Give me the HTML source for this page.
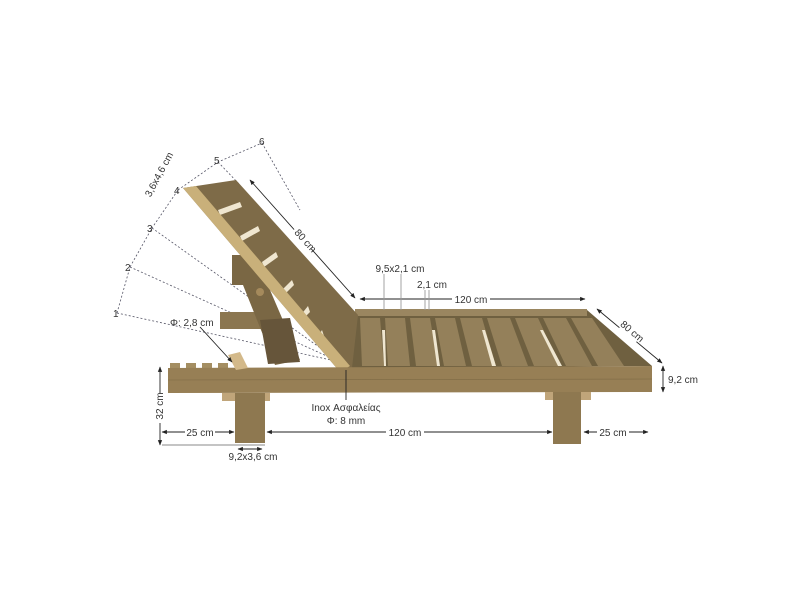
<!DOCTYPE html>
<html><head><meta charset="utf-8"><style>
html,body{margin:0;padding:0;background:#fff;}
svg{display:block;}
text{font-family:"Liberation Sans","Noto Sans CJK SC",sans-serif;font-size:10px;fill:#333;}
</style></head><body>
<svg width="800" height="600" viewBox="0 0 800 600" xmlns="http://www.w3.org/2000/svg">
<defs>
<marker id="a" viewBox="0 0 10 10" refX="9" refY="5" markerWidth="6" markerHeight="6" orient="auto-start-reverse"><path d="M0,1L10,5L0,9z" fill="#222"/></marker>
</defs>
<rect width="800" height="600" fill="#fff"/>
<g stroke="#556" stroke-width="0.8" stroke-dasharray="2,2" fill="none">
<polyline points="117,313 130,267 152,228 178,190"/>
<polyline points="178,190 218,162 262,143"/>
<line x1="117" y1="313" x2="340" y2="362"/>
<line x1="130" y1="267" x2="340" y2="362"/>
<line x1="152" y1="228" x2="340" y2="362"/>
<line x1="218" y1="162" x2="240" y2="185"/>
<line x1="262" y1="143" x2="300" y2="210"/>
</g>
<rect x="220" y="312" width="50" height="17" fill="#8b7650"/>
<polygon points="355,311 587,310 652,366 340,368" fill="#6f6040"/>
<g fill="#94805a">
<polygon points="360,318 380,318 384,366 362,366"/>
<polygon points="385,318 405,318 410,366 388,366"/>
<polygon points="410,318 430,318 438,366 416,366"/>
<polygon points="435,318 455,318 466,366 444,366"/>
<polygon points="460,318 482,318 496,366 472,366"/>
<polygon points="487,318 510,318 528,366 502,366"/>
<polygon points="515,318 538,318 560,366 534,366"/>
<polygon points="543,318 566,318 592,366 566,366"/>
<polygon points="571,318 592,318 624,366 598,366"/>
</g>
<g fill="#efe6d0">
<polygon points="382,330 385,330 386,366 384,366"/>
<polygon points="432,330 435,330 440,366 437,366"/>
<polygon points="482,330 485,330 496,366 492,366"/>
<polygon points="540,330 543,330 562,366 558,366"/>
</g>
<rect x="355" y="309" width="232" height="7" fill="#9a8660"/>
<polygon points="235,265 258,262 300,360 275,365" fill="#7a6744"/>
<polygon points="260,320 290,318 300,362 268,364" fill="#66553a"/>
<rect x="232" y="255" width="30" height="30" fill="#7a6744"/>
<polygon points="183,188 236,180 358,315 352,368 340,372" fill="#7e6b48"/>
<g fill="#efe6d0">
<polygon points="218,210 240,202 242,207 220,215"/>
<polygon points="240,236 258,226 260,231 242,241"/>
<polygon points="262,262 276,252 278,257 264,267"/>
<polygon points="282,290 292,280 294,285 284,295"/>
<polygon points="300,316 308,306 310,312 302,320"/>
<polygon points="316,340 322,330 324,336 318,344"/>
</g>
<polygon points="183,188 196,186 350,366 340,372" fill="#c9b07a"/>
<circle cx="260" cy="292" r="4" fill="#a58a5c"/>
<g fill="#a48e62">
<rect x="170" y="363" width="10" height="6"/><rect x="186" y="363" width="10" height="6"/><rect x="202" y="363" width="10" height="6"/><rect x="218" y="363" width="10" height="6"/>
</g>
<polygon points="168,368 652,366 652,392 168,393" fill="#977f55"/>
<line x1="168" y1="380" x2="652" y2="379" stroke="#7e6a45" stroke-width="0.6"/>
<polygon points="228,355 240,352 248,368 236,370" fill="#d3b98a"/>
<rect x="222" y="393" width="48" height="8" fill="#c0a57a"/>
<rect x="235" y="393" width="30" height="50" fill="#8e7850"/>
<rect x="545" y="392" width="46" height="8" fill="#c0a57a"/>
<rect x="553" y="392" width="28" height="52" fill="#8e7850"/>
<g stroke="#222" stroke-width="0.9" fill="none">
<line x1="250" y1="180" x2="355" y2="298" marker-start="url(#a)" marker-end="url(#a)"/>
<line x1="360" y1="299" x2="585" y2="299" marker-start="url(#a)" marker-end="url(#a)"/>
<line x1="597" y1="309" x2="662" y2="363" marker-start="url(#a)" marker-end="url(#a)"/>
<line x1="663" y1="366" x2="663" y2="392" marker-start="url(#a)" marker-end="url(#a)"/>
<line x1="160" y1="367" x2="160" y2="445" marker-start="url(#a)" marker-end="url(#a)"/>
<line x1="162" y1="445" x2="265" y2="445" stroke="#888"/>
<line x1="162" y1="432" x2="234" y2="432" marker-start="url(#a)" marker-end="url(#a)"/>
<line x1="267" y1="432" x2="552" y2="432" marker-start="url(#a)" marker-end="url(#a)"/>
<line x1="584" y1="432" x2="648" y2="432" marker-start="url(#a)" marker-end="url(#a)"/>
<line x1="238" y1="449" x2="262" y2="449" marker-start="url(#a)" marker-end="url(#a)"/>
<line x1="346" y1="370" x2="346" y2="400"/>
<line x1="200" y1="327" x2="232" y2="362" marker-end="url(#a)"/>
<line x1="384" y1="274" x2="384" y2="310" stroke="#999"/>
<line x1="401" y1="274" x2="401" y2="310" stroke="#999"/>
<line x1="425" y1="290" x2="425" y2="310" stroke="#999"/>
<line x1="429" y1="290" x2="429" y2="310" stroke="#999"/>
</g>
<g>
<rect x="452" y="293" width="38" height="12" fill="#fff"/>
<text x="471" y="303" text-anchor="middle">120 cm</text>
<rect x="386" y="426" width="38" height="12" fill="#fff"/>
<text x="405" y="436" text-anchor="middle">120 cm</text>
<rect x="185" y="426" width="30" height="12" fill="#fff"/>
<text x="200" y="436" text-anchor="middle">25 cm</text>
<rect x="597" y="426" width="32" height="12" fill="#fff"/>
<text x="613" y="436" text-anchor="middle">25 cm</text>
<text x="400" y="272" text-anchor="middle">9,5x2,1 cm</text>
<text x="432" y="288" text-anchor="middle">2,1 cm</text>
<text x="668" y="383">9,2 cm</text>
<text x="253" y="460" text-anchor="middle">9,2x3,6 cm</text>
<text x="346" y="411" text-anchor="middle">Inox Ασφαλείας</text>
<text x="346" y="424" text-anchor="middle">Φ: 8 mm</text>
<text x="170" y="326">Φ: 2,8 cm</text>
<rect x="152" y="393" width="14" height="30" fill="#fff"/>
<text transform="translate(163,406) rotate(-90)" text-anchor="middle">32 cm</text>
<rect x="-13" y="-6" width="26" height="10" fill="#fff" transform="translate(303,239) rotate(48)"/>
<text transform="translate(303,243) rotate(48)" text-anchor="middle">80 cm</text>
<rect x="620" y="324" width="22" height="14" fill="#fff" transform="rotate(40 631 331)"/>
<text transform="translate(630,334) rotate(40)" text-anchor="middle">80 cm</text>
<text transform="translate(162,176) rotate(-62)" text-anchor="middle">3,6x4,6 cm</text>
<text x="113" y="317">1</text>
<text x="125" y="271">2</text>
<text x="147" y="232">3</text>
<text x="174" y="194">4</text>
<text x="214" y="164">5</text>
<text x="259" y="145">6</text>
</g>
</svg>
</body></html>
